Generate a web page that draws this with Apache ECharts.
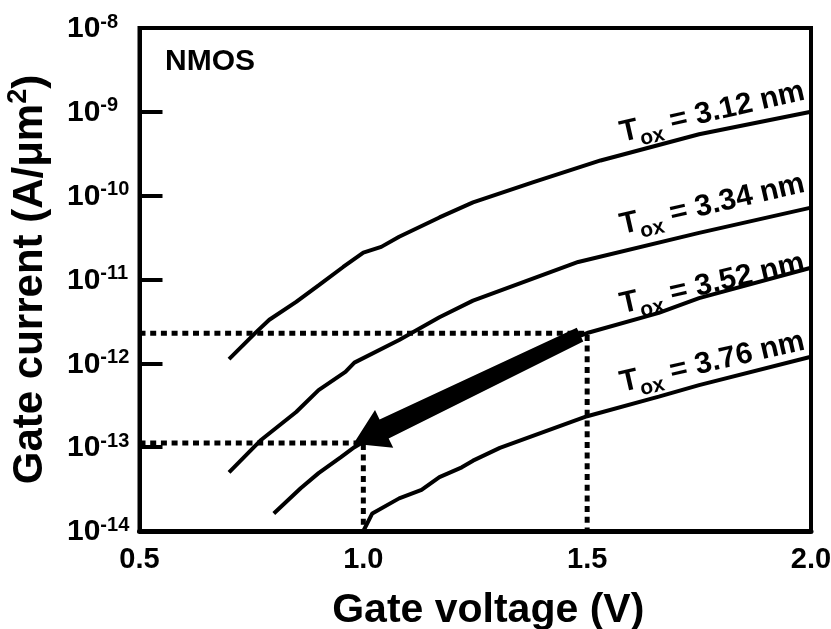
<!DOCTYPE html>
<html><head><meta charset="utf-8">
<script src="https://cdn.jsdelivr.net/npm/echarts@6/dist/echarts.min.js"></script>
<style>html,body{margin:0;padding:0;background:#fff}#c{width:831px;height:629px}</style>
</head><body><div id="c"></div>
<script>
const FONT = '"Liberation Sans", Arial, Helvetica, sans-serif';

// ---- data ----
const xTicks = [0.5, 1.0, 1.5, 2.0];
const yMin = 1e-14, yMax = 1e-8;

const v312 = [0.70, 0.76, 0.79, 0.85, 0.90, 0.955, 1.00, 1.04, 1.08, 1.17, 1.245, 1.38, 1.53, 1.75, 2.00];
const i312 = [1.12e-12, 2.34e-12, 3.31e-12, 5.4e-12, 8.5e-12, 1.41e-11, 2.09e-11, 2.45e-11, 3.24e-11, 5.5e-11, 8.3e-11, 1.45e-10, 2.63e-10, 5.4e-10, 1.0e-9];

const v334 = [0.70, 0.77, 0.85, 0.90, 0.96, 0.98, 1.08, 1.17, 1.245, 1.48, 1.75, 2.00];
const i334 = [5.0e-14, 1.2e-13, 2.63e-13, 4.8e-13, 7.9e-13, 1.02e-12, 1.9e-12, 3.55e-12, 5.6e-12, 1.62e-11, 3.6e-11, 7.2e-11];

const v352 = [0.80, 0.86, 0.90, 0.95, 0.98, 1.10, 1.25, 1.37, 1.50, 1.66, 1.75, 2.00];
const i352 = [1.62e-14, 3.24e-14, 4.9e-14, 7.6e-14, 1.0e-13, 2.4e-13, 6.3e-13, 1.26e-12, 2.3e-12, 4.0e-12, 6.0e-12, 1.38e-11];

const v376 = [1.00, 1.02, 1.08, 1.13, 1.17, 1.22, 1.245, 1.305, 1.50, 1.66, 1.75, 2.00];
const i376 = [1.0e-14, 1.62e-14, 2.45e-14, 3.1e-14, 4.4e-14, 5.75e-14, 6.9e-14, 9.8e-14, 2.34e-13, 4.0e-13, 5.5e-13, 1.2e-12];

const toxLabels = ['3.12', '3.34', '3.52', '3.76'];
const labelAnchorV = [1.78, 1.78, 1.78, 1.78];
const labelAnchorI = [9.6e-10, 7.6e-11, 8.6e-12, 1.0e-12];

const guideUpperV = [0.5, 1.5, 1.5];
const guideUpperI = [2.29e-12, 2.29e-12, 1e-14];
const guideLowerV = [0.5, 1.0, 1.0];
const guideLowerI = [1.12e-13, 1.12e-13, 1e-14];

const arrowFrom = [1.484, 2.2e-12];
const arrowTo = [0.978, 1.1e-13];

// ---- chart ----
const zip = (a, b) => a.map((x, k) => [x, b[k]]);
const curveStyle = { color: '#000', width: 4 };
const lineSeries = (name, v, i) => ({
  name, type: 'line', data: zip(v, i), showSymbol: false, symbol: 'none',
  lineStyle: curveStyle, z: 3, silent: true, animation: false
});
const dotted = { color: '#000', width: 5, type: [6, 4.7] };

const chart = echarts.init(document.getElementById('c'), null, { renderer: 'canvas' });
const option = {
  backgroundColor: '#fff',
  animation: false,
  grid: {
    left: 139.5, right: 20, top: 28, bottom: 98, outerBoundsMode: 'none', containLabel: false,
    show: true, borderColor: '#000', borderWidth: 4, backgroundColor: 'transparent'
  },
  xAxis: {
    type: 'value', min: 0.5, max: 2.0, interval: 0.5,
    name: 'Gate voltage (V)', nameLocation: 'middle', nameGap: 59,
    nameTextStyle: { fontFamily: FONT, fontWeight: 'bold', fontSize: 41, color: '#000', padding: [0, 0, 0, 26] },
    axisLine: { show: true, lineStyle: { color: '#000', width: 5 } },
    axisTick: { show: false },
    splitLine: { show: false },
    axisLabel: {
      margin: 14, fontFamily: FONT, fontWeight: 'bold', fontSize: 29, color: '#000',
      customValues: xTicks,
      formatter: v => v.toFixed(1)
    }
  },
  yAxis: {
    type: 'log', logBase: 10, min: yMin, max: yMax, splitNumber: 6,
    name: '{m|Gate current (A/μm}{s|2}{m|)}', nameLocation: 'middle', nameGap: 88,
    nameTextStyle: {
      fontFamily: FONT, fontWeight: 'bold', fontSize: 42, color: '#000',
      rich: {
        m: { fontFamily: FONT, fontWeight: 'bold', fontSize: 42, lineHeight: 46, verticalAlign: 'bottom', color: '#000' },
        s: { fontFamily: FONT, fontWeight: 'bold', fontSize: 27, lineHeight: 29, verticalAlign: 'top', color: '#000' }
      }
    },
    axisLine: { show: true, lineStyle: { color: '#000', width: 4 } },
    axisTick: { show: true, inside: true, length: 23, lineStyle: { color: '#000', width: 4 } },
    minorTick: { show: false },
    splitLine: { show: false },
    axisLabel: {
      margin: 72.5, align: 'left', color: '#000',
      formatter: v => '{a|10}{b|' + Math.round(Math.log10(v)) + '}',
      rich: {
        a: { fontFamily: FONT, fontWeight: 'bold', fontSize: 30, lineHeight: 32, verticalAlign: 'bottom', color: '#000' },
        b: { fontFamily: FONT, fontWeight: 'bold', fontSize: 20, lineHeight: 20, verticalAlign: 'top', color: '#000' }
      }
    }
  },
  series: [
    { type: 'line', data: zip(guideUpperV, guideUpperI), symbol: 'none', lineStyle: dotted, z: 2, silent: true },
    { type: 'line', data: zip(guideLowerV, guideLowerI), symbol: 'none', lineStyle: dotted, z: 2, silent: true },
    lineSeries('3.12', v312, i312),
    lineSeries('3.34', v334, i334),
    lineSeries('3.52', v352, i352),
    lineSeries('3.76', v376, i376),
    {
      type: 'custom', z: 5, silent: true,
      data: [[arrowFrom[0], arrowFrom[1], arrowTo[0], arrowTo[1]]],
      encode: { x: [0, 2], y: [1, 3] },
      renderItem: (params, api) => {
        const p0 = api.coord([api.value(0), api.value(1)]);
        const p1 = api.coord([api.value(2), api.value(3)]);
        const dx = p1[0] - p0[0], dy = p1[1] - p0[1];
        const L = Math.hypot(dx, dy), ux = dx / L, uy = dy / L, nx = -uy, ny = ux;
        const headLen = 34, headHalf = 21, wTail = 7.5, wHead = 10.5;
        const bx = p1[0] - ux * headLen, by = p1[1] - uy * headLen;
        const pts = [
          [p0[0] + nx * wTail, p0[1] + ny * wTail],
          [bx + nx * wHead, by + ny * wHead],
          [bx + nx * headHalf, by + ny * headHalf],
          p1,
          [bx - nx * headHalf, by - ny * headHalf],
          [bx - nx * wHead, by - ny * wHead],
          [p0[0] - nx * wTail, p0[1] - ny * wTail]
        ];
        return { type: 'polygon', shape: { points: pts }, style: { fill: '#000' } };
      }
    }
  ]
};
chart.setOption(option);

const graphics = [{
  type: 'text', left: 165, top: 47, z: 10,
  style: { text: 'NMOS', fontFamily: FONT, fontWeight: 'bold', fontSize: 30, fill: '#000' }
}];
toxLabels.forEach((t, k) => {
  const p = chart.convertToPixel({ gridIndex: 0 }, [labelAnchorV[k], labelAnchorI[k]]);
  graphics.push({
    type: 'text', x: p[0], y: p[1], rotation: 13 * Math.PI / 180, z: 10,
    style: {
      text: '{t|T}{s|ox}{t| = ' + t + ' nm}',
      align: 'center', verticalAlign: 'middle',
      rich: {
        t: { fontFamily: FONT, fontWeight: 'bold', fontSize: 30, lineHeight: 32, verticalAlign: 'top', fill: '#000' },
        s: { fontFamily: FONT, fontWeight: 'bold', fontSize: 21, lineHeight: 21, padding: [15, 0, 0, 0], verticalAlign: 'top', fill: '#000' }
      }
    }
  });
});
chart.setOption({ graphic: graphics });
</script></body></html>
